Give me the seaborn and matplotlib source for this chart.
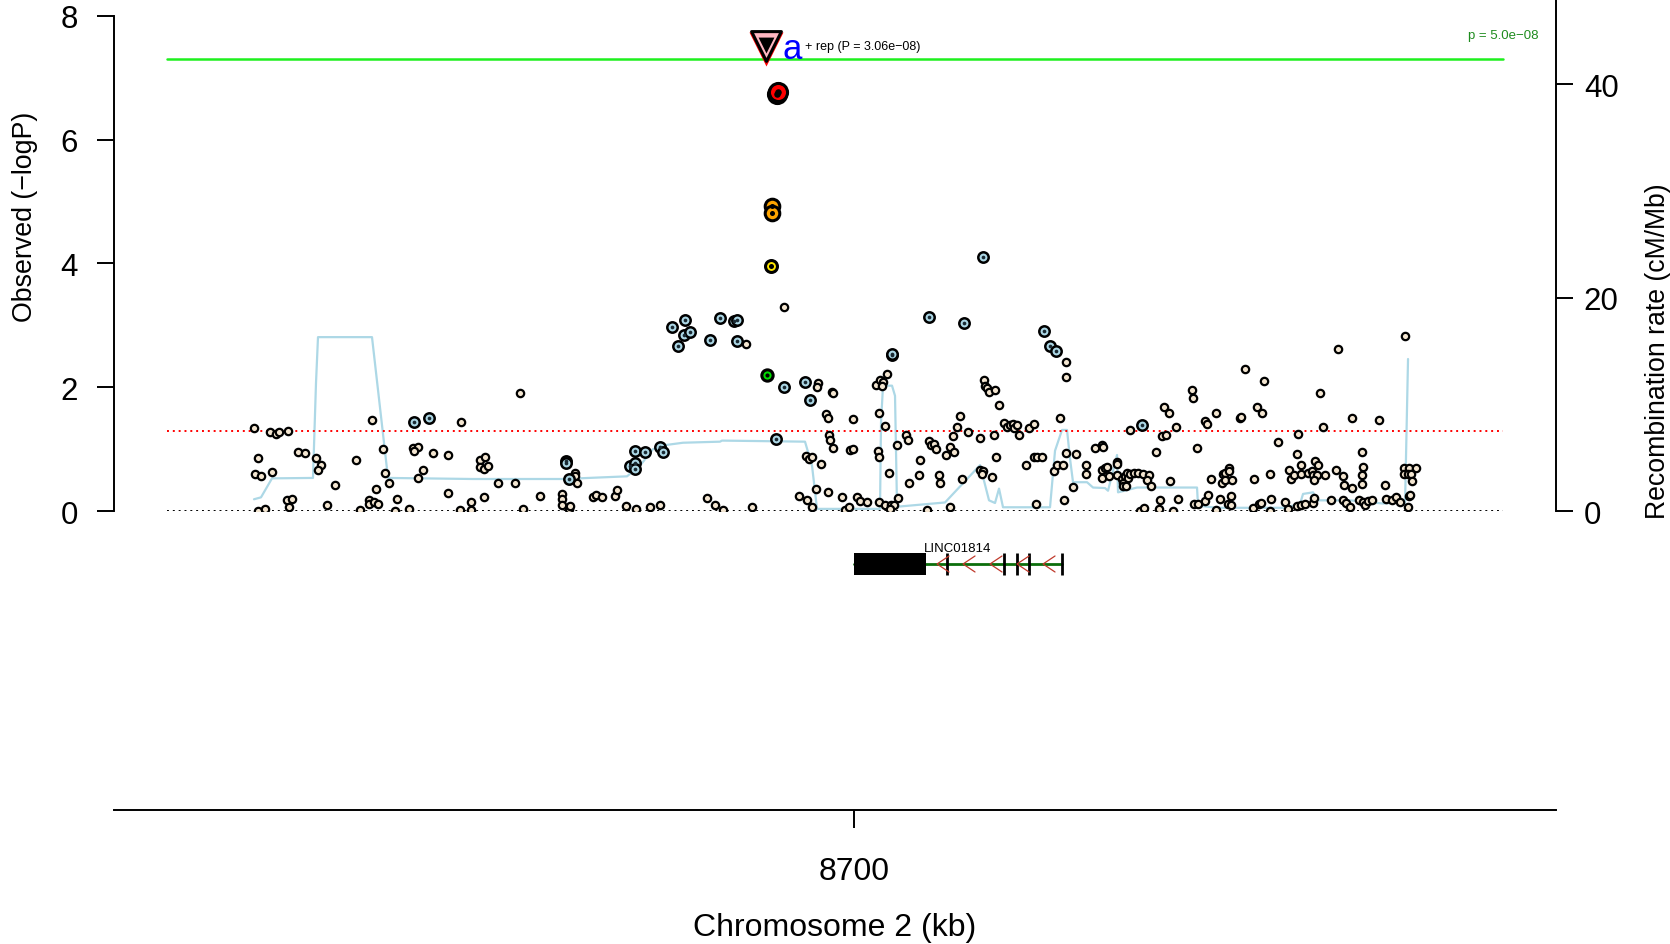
import matplotlib
matplotlib.use("Agg")
import matplotlib.pyplot as plt
import seaborn as sns

sns.set_style("ticks")
plt.rcParams['font.family'] = ['Liberation Sans', 'DejaVu Sans']
plt.rcParams['text.color'] = 'black'
plt.rcParams['axes.labelcolor'] = 'black'
plt.rcParams['xtick.color'] = 'black'
plt.rcParams['ytick.color'] = 'black'
plt.rcParams['axes.edgecolor'] = 'black'

# --- SNPs without LD info (cream) : position (kb), -log10 P
cream_pos = [8640.0, 8640.4, 8640.1, 8640.7, 8641.8, 8640.4, 8641.1, 8641.6, 8642.2, 8642.5,
             8643.4, 8644.4, 8645.1, 8643.3, 8643.8, 8643.5, 8646.2, 8646.7, 8646.4, 8647.3,
             8648.1, 8650.2, 8650.6, 8651.8, 8651.5, 8651.5, 8652.0, 8652.4, 8652.2, 8652.9,
             8653.1, 8653.5, 8654.3, 8654.1, 8655.5, 8655.9, 8656.4, 8656.0, 8656.4, 8656.9,
             8657.9, 8659.4, 8659.4, 8660.7, 8660.6, 8661.7, 8661.7, 8662.6, 8663.1, 8662.6,
             8663.0, 8663.4, 8663.0, 8664.4, 8666.1, 8666.6, 8666.9, 8668.6, 8670.8, 8670.8,
             8670.8, 8671.5, 8671.6, 8672.1, 8672.1, 8672.3, 8673.9, 8674.2, 8674.8, 8676.1,
             8676.3, 8677.2, 8678.2, 8679.6, 8680.6,
             8689.2, 8693.0, 8696.4, 8696.3, 8697.8, 8697.9, 8697.2, 8697.4, 8699.9, 8697.5,
             8697.6, 8697.9, 8699.6, 8699.9, 8695.2, 8695.5, 8695.8, 8696.7, 8696.2, 8697.4,
             8698.8, 8700.3, 8700.6, 8701.3, 8694.5, 8695.3, 8695.8, 8699.1, 8699.5, 8685.3,
             8686.1, 8686.9, 8689.8, 8703.3, 8702.2, 8702.6, 8702.9, 8702.8, 8702.5, 8703.1,
             8702.4, 8702.5, 8703.5, 8704.3, 8702.5, 8703.1, 8703.7, 8704.4, 8704.0, 8703.6,
             8705.2, 8705.4, 8706.6, 8705.5, 8706.5, 8707.5, 8707.7, 8708.0, 8708.2, 8708.5,
             8708.6, 8709.2, 8709.6, 8710.0, 8709.9, 8710.3, 8710.6, 8711.4, 8707.3, 8709.6,
             8710.8, 8712.6, 8713.0, 8713.1, 8713.3, 8713.5, 8714.1, 8714.5, 8715.0, 8715.3,
             8715.6, 8715.9, 8716.0, 8716.3, 8716.5, 8714.2, 8714.0, 8712.6, 8712.9, 8712.8,
             8713.8, 8717.2, 8717.5, 8718.0, 8718.0, 8718.3, 8718.8, 8718.2,
             8721.2, 8721.2, 8720.6, 8720.0, 8720.3, 8720.9, 8721.2, 8721.0, 8721.9, 8722.2,
             8723.2, 8723.2, 8724.1, 8724.8, 8724.9, 8724.8, 8724.8, 8725.1, 8725.3, 8725.5,
             8726.3, 8726.3, 8726.3, 8726.8, 8726.9, 8726.9, 8727.2, 8727.1, 8727.3, 8727.4,
             8727.6, 8728.0, 8728.4, 8728.9, 8729.5, 8729.3, 8729.7, 8728.6, 8729.0, 8727.6,
             8730.2, 8730.8, 8731.2, 8731.0, 8731.5, 8732.2, 8731.6, 8730.6, 8730.5, 8731.9,
             8732.4, 8733.8, 8733.9, 8734.3, 8735.1, 8735.3, 8736.2, 8735.7, 8734.0, 8734.4,
             8735.1, 8735.4, 8736.2, 8736.6, 8736.9, 8737.1, 8737.5, 8737.5, 8736.8, 8737.1,
             8737.8, 8737.4, 8737.7, 8737.7, 8738.6, 8738.7, 8739.1, 8740.3, 8740.8, 8741.0,
             8740.0, 8739.9, 8740.5, 8740.7, 8741.6, 8741.7, 8741.6, 8742.4, 8743.1, 8743.4,
             8743.5, 8743.7, 8744.0, 8744.3, 8744.4, 8744.7, 8744.7, 8744.3, 8744.7, 8745.1,
             8745.4, 8745.8, 8746.1, 8746.4, 8745.9, 8746.3, 8746.0, 8745.9, 8746.0, 8746.6,
             8746.9, 8747.1, 8747.7, 8748.2, 8748.4, 8748.9, 8749.0, 8748.9, 8749.2, 8749.6,
             8749.8, 8749.8, 8750.8, 8750.9, 8750.8, 8750.8, 8750.5, 8750.9, 8751.1, 8751.4,
             8751.8, 8752.5, 8753.1, 8753.2, 8753.8, 8754.2, 8754.6, 8755.1, 8755.0, 8755.5,
             8756.2, 8755.0, 8755.4, 8755.7, 8755.8, 8755.5, 8755.6, 8755.4]
cream_logp = [1.34, 0.86, 0.59, 0.57, 0.63, 0.00, 0.03, 1.28, 1.24, 1.27,
              1.29, 0.96, 0.94, 0.18, 0.20, 0.07, 0.86, 0.74, 0.66, 0.10,
              0.42, 0.83, 0.01, 1.47, 0.18, 0.12, 0.14, 0.12, 0.35, 1.00,
              0.61, 0.45, 0.20, 0.00, 0.03, 1.01, 1.04, 0.97, 0.53, 0.67,
              0.94, 0.91, 0.29, 1.44, 0.01, 0.15, 0.01, 0.82, 0.88, 0.71,
              0.68, 0.72, 0.23, 0.45, 0.46, 1.90, 0.04, 0.25, 0.27, 0.19,
              0.09, 0.03, 0.08, 0.62, 0.57, 0.45, 0.23, 0.26, 0.22, 0.24,
              0.34, 0.08, 0.03, 0.07, 0.10,
              2.69, 3.29, 2.06, 2.01, 1.93, 1.90, 1.57, 1.50, 1.49, 1.22,
              1.14, 1.01, 0.99, 1.00, 0.89, 0.84, 0.88, 0.76, 0.36, 0.31,
              0.23, 0.22, 0.16, 0.15, 0.24, 0.18, 0.06, 0.02, 0.06, 0.21,
              0.09, 0.02, 0.06, 2.22, 2.04, 2.11, 2.09, 2.02, 1.59, 1.38,
              0.97, 0.87, 0.62, 1.07, 0.14, 0.10, 0.09, 0.21, 0.10, 0.04,
              1.23, 1.15, 0.83, 0.45, 0.58, 1.13, 1.07, 1.09, 1.00, 0.58,
              0.45, 0.90, 1.04, 0.95, 1.21, 1.36, 1.53, 1.28, 0.02, 0.06,
              0.51, 1.18, 2.12, 2.02, 1.98, 1.93, 1.96, 1.71, 1.42, 1.35,
              1.39, 1.40, 1.34, 1.39, 1.23, 0.87, 1.22, 0.66, 0.64, 0.60,
              0.55, 0.75, 1.34, 1.40, 0.88, 0.87, 0.87, 0.12,
              2.41, 2.16, 1.50, 0.65, 0.75, 0.75, 0.94, 0.17, 0.39, 0.92,
              0.74, 0.60, 1.01, 1.06, 1.03, 0.67, 0.54, 0.69, 0.71, 0.56,
              0.79, 0.76, 0.58, 0.52, 0.46, 0.40, 0.40, 0.57, 0.61, 0.53,
              0.60, 0.61, 0.61, 0.60, 0.58, 0.50, 0.40, 0.00, 0.05, 1.31,
              0.96, 1.21, 1.22, 1.68, 1.58, 1.35, 0.49, 0.18, 0.03, 0.00,
              0.19, 1.95, 1.82, 1.02, 1.46, 1.41, 1.58, 0.52, 0.12, 0.12,
              0.16, 0.26, 0.02, 0.19, 0.60, 0.62, 0.69, 0.64, 0.46, 0.50,
              0.50, 0.12, 0.24, 0.09, 1.50, 1.52, 2.29, 1.68, 1.58, 2.10,
              0.51, 0.05, 0.12, 0.13, 0.59, 0.20, 0.00, 1.12, 0.14, 0.04,
              0.67, 0.52, 0.58, 0.92, 1.25, 0.75, 0.59, 0.08, 0.10, 0.11,
              0.61, 0.65, 0.80, 0.75, 0.58, 0.58, 0.50, 0.13, 0.21, 1.91,
              1.36, 0.58, 0.17, 0.67, 2.61, 0.57, 0.42, 0.17, 0.13, 0.06,
              0.37, 1.50, 0.96, 0.71, 0.58, 0.44, 0.17, 0.15, 0.10, 0.16,
              0.17, 1.47, 0.42, 0.19, 0.17, 0.22, 0.14, 2.83, 0.70, 0.70,
              0.70, 0.60, 0.59, 0.59, 0.48, 0.25, 0.26, 0.06]

# --- SNPs with low LD (light blue)
lb_pos = [8656.0, 8657.5, 8671.2, 8671.2, 8671.5, 8677.6, 8678.1, 8679.1, 8678.1, 8678.1,
          8680.6, 8680.9, 8681.8, 8683.1, 8683.0, 8683.6, 8682.4, 8685.6, 8686.6, 8688.0,
          8688.3, 8688.3, 8693.0, 8695.1, 8695.6, 8692.2, 8703.8, 8703.8, 8707.5, 8711.0,
          8719.0, 8719.6, 8720.2, 8712.9, 8728.8]
lb_logp = [1.43, 1.50, 0.80, 0.78, 0.51, 0.72, 0.97, 0.96, 0.77, 0.68,
           1.04, 0.96, 2.98, 3.09, 2.85, 2.89, 2.67, 2.76, 3.11, 3.07,
           3.08, 2.74, 2.00, 2.09, 1.80, 1.17, 2.52, 2.54, 3.14, 3.03,
           2.91, 2.66, 2.58, 4.10, 1.39]

# --- higher LD SNPs
green_pos, green_logp = [8691.3], [2.20]
yellow_pos, yellow_logp = [8691.7], [3.96]
orange_pos, orange_logp = [8691.8, 8691.8], [4.93, 4.81]
red_pos, red_logp = [8692.3, 8692.4], [6.74, 6.76]

# index SNP (replication)
idx_pos, idx_logp = [8691.2], [7.51]

# --- recombination rate (cM/Mb)
recomb_pos = [8640.0, 8640.7, 8641.8, 8645.9, 8646.2, 8646.4, 8651.8, 8653.4, 8661.9, 8670.9,
              8677.3, 8678.6, 8679.9, 8681.3, 8682.9, 8686.6, 8686.8, 8695.1, 8695.8, 8696.3,
              8702.6, 8702.7, 8702.9, 8703.8, 8704.1, 8704.3, 8709.1, 8712.6, 8713.5, 8714.1,
              8714.5, 8714.9, 8719.6, 8720.1, 8720.8, 8721.3, 8721.6, 8721.9, 8723.3, 8723.9,
              8725.1, 8725.4, 8726.3, 8726.4, 8728.3, 8734.3, 8734.4, 8736.3, 8742.9, 8744.6,
              8744.9, 8745.9, 8746.3, 8749.6, 8752.9, 8754.6, 8755.1, 8755.4]
recomb_rate = [1.1, 1.28, 3.06, 3.1, 12.0, 16.3, 16.3, 3.1, 3.0, 3.0,
               3.25, 4.25, 5.8, 6.2, 6.4, 6.5, 6.6, 6.5, 4.25, 0.2,
               0.2, 8.3, 11.75, 11.75, 10.8, 0.4, 0.8, 4.3, 1.0, 0.75,
               2.1, 0.35, 0.35, 5.65, 7.6, 7.6, 4.9, 2.7, 2.7, 2.2,
               2.15, 1.9, 5.25, 1.75, 2.2, 2.2, 0.5, 0.3, 0.3, 0.65,
               1.6, 1.75, 1.0, 1.0, 0.7, 0.8, 0.65, 14.25]

# --- gene LINC01814
gene_name = "LINC01814"
gene_start, gene_end = 8700.0, 8720.8
block_start, block_end = 8700.0, 8707.2
exon_pos = [8709.3, 8715.0, 8716.3, 8717.5, 8720.8]
arrow_pos = [8708.3, 8710.9, 8713.6, 8716.3, 8718.9]

region = (8631.3, 8764.9)
xlim = (8626.0, 8770.2)
gw_sig = 7.30
sugg = 1.30

cream_col = "#F3E5D0"
lb_col = "#ADD8E6"

fig = plt.figure(figsize=(16.7, 9.45), dpi=100)
ax = fig.add_axes([0.06826, 0.4582, 0.8635, 0.5418])
ax2 = ax.twinx()
ax.set_zorder(ax2.get_zorder() + 1)
ax.patch.set_visible(False)

# recombination line
sns.lineplot(x=recomb_pos, y=recomb_rate, ax=ax2, sort=False, estimator=None,
             color=lb_col, linewidth=1.6)

# reference lines
ax.plot(region, [gw_sig, gw_sig], color="#1EF01E", lw=1.8, zorder=1)
ax.plot(region, [sugg, sugg], color="red", lw=1.4, ls=(0, (1, 2)), zorder=1)
ax.plot(region, [0, 0], color="black", lw=1.4, ls=(0, (1, 2)), zorder=1)

# points
sns.scatterplot(x=cream_pos, y=cream_logp, ax=ax, color=cream_col, edgecolor="black",
                linewidth=1.6, s=28, zorder=3, legend=False)
sns.scatterplot(x=lb_pos, y=lb_logp, ax=ax, color=lb_col, edgecolor="black",
                linewidth=1.8, s=56, zorder=4, legend=False)
sns.scatterplot(x=lb_pos, y=lb_logp, ax=ax, color="#1a2a33", linewidth=0, s=7, zorder=5, legend=False)

for pos, lp, col, size, dot in [(green_pos, green_logp, "#00DD00", 66, 9),
                                 (yellow_pos, yellow_logp, "#FFE600", 74, 13),
                                 (orange_pos, orange_logp, "#FFA500", 110, 13),
                                 (red_pos, red_logp, "#FF0000", 170, 22)]:
    sns.scatterplot(x=pos, y=lp, ax=ax, color=col, edgecolor="black", linewidth=2.2,
                    s=size, zorder=6, legend=False)
    sns.scatterplot(x=pos, y=lp, ax=ax, color="black", linewidth=0, s=dot, zorder=7, legend=False)

# index SNP triangle
sns.scatterplot(x=idx_pos, y=[v - 0.04 for v in idx_logp], ax=ax, marker="v", color="red",
                linewidth=0, s=600, zorder=8, legend=False)
sns.scatterplot(x=idx_pos, y=idx_logp, ax=ax, marker="v", color="#FFB6C1", edgecolor="black",
                linewidth=2.2, s=460, zorder=9, legend=False)
sns.scatterplot(x=idx_pos, y=[v + 0.02 for v in idx_logp], ax=ax, marker="v", color="black",
                linewidth=0, s=130, zorder=10, legend=False)

ax.text(idx_pos[0] + 2.6, idx_logp[0] - 0.04, "a", color="blue", fontsize=25,
        ha="center", va="center", zorder=11)
ax.text(idx_pos[0] + 3.9, idx_logp[0] + 0.0, "+ rep (P = 3.06e\u221208)", fontsize=9,
        ha="left", va="center", zorder=11)
ax.text(8768.4, 7.69, "p = 5.0e\u221208", color="#1E8C1E", fontsize=9.5, ha="right", va="center")

ax.set_xlim(*xlim)
ax.set_ylim(0, 8.27)
ax2.set_ylim(0, 48.0)
ax.set_xticks([])
ax.set_yticks([0, 2, 4, 6, 8])
ax2.set_yticks([0, 20, 40])
ax.tick_params(axis="y", length=12, width=1.4, labelsize=22.5, pad=14)
ax2.tick_params(axis="y", length=12, width=1.4, labelsize=22.5, pad=8)
for s in ["top", "bottom", "right"]:
    ax.spines[s].set_visible(False)
for s in ["top", "bottom", "left"]:
    ax2.spines[s].set_visible(False)
ax.spines["left"].set_bounds(0, 8)
ax.spines["left"].set_linewidth(1.4)
ax2.spines["right"].set_linewidth(1.4)

ax.set_ylabel("Observed (\u2212logP)", fontsize=19.3)
ax.yaxis.label.set_va("center")
ax.yaxis.set_label_coords(-0.0617, 0.576)
ax2.set_ylabel("Recombination rate (cM/Mb)", fontsize=19.2)
ax2.yaxis.label.set_va("center")
ax2.yaxis.set_label_coords(1.0707, 0.3135)

# gene panel
axg = fig.add_axes([0.06826, 0.1413, 0.8635, 0.3169])
axg.set_xlim(*xlim)
axg.set_ylim(-24.65, 5.3)
axg.patch.set_visible(False)
axg.plot([gene_start, gene_end], [0, 0], color="#0B6E0B", lw=2.0, zorder=2)
axg.fill_between([block_start, block_end], -1.1, 1.1, color="black", lw=0, zorder=3)
axg.vlines(exon_pos, -1.1, 1.1, color="black", lw=2.0, zorder=3)
for p in arrow_pos:
    axg.plot([p + 1.2, p, p + 1.2], [0.8, 0, -0.8], color="#C0392B", lw=0.9, zorder=4)
axg.text((gene_start + gene_end) / 2, 1.6, gene_name, fontsize=9.5, ha="center", va="center")

axg.set_yticks([])
axg.set_xticks([8700])
axg.set_xticklabels(["8700"])
axg.tick_params(axis="x", length=13, width=1.4, labelsize=23, pad=20)
for s in ["top", "left", "right"]:
    axg.spines[s].set_visible(False)
axg.spines["bottom"].set_linewidth(1.4)
axg.set_xlabel("Chromosome 2 (kb)", fontsize=23)
axg.xaxis.label.set_va("center")
axg.xaxis.set_label_coords(0.5, -0.39)

fig.savefig("out.png", dpi=100)
